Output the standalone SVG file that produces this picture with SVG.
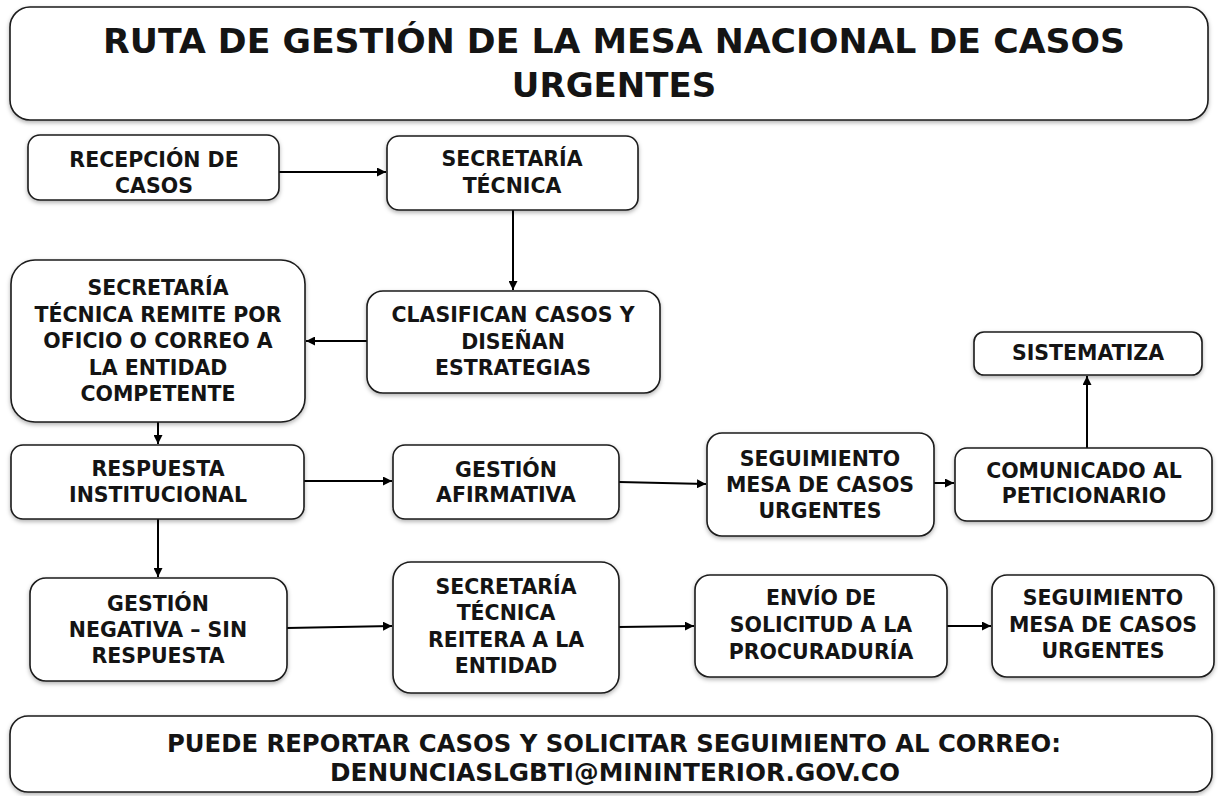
<svg xmlns="http://www.w3.org/2000/svg" width="1218" height="796" viewBox="0 0 1218 796">
  <defs>
    <filter id="shadow" x="-10%" y="-10%" width="120%" height="130%">
      <feDropShadow dx="0" dy="2" stdDeviation="2" flood-color="#000" flood-opacity="0.3"/>
    </filter>
    <marker id="arrow" viewBox="0 0 10 10" refX="10" refY="5" markerWidth="9" markerHeight="9" markerUnits="userSpaceOnUse" orient="auto">
      <path d="M0,0 L10,5 L0,10 z" fill="#000"/>
    </marker>
    <style>
      .box { fill: #fff; stroke: #1a1a1a; stroke-width: 1.6; filter: url(#shadow); }
      .lbl { font-family: "DejaVu Sans", "Liberation Sans", sans-serif; font-weight: bold; font-size: 20.5px; fill: #141414; text-anchor: middle; }
      .title { font-family: "DejaVu Sans", "Liberation Sans", sans-serif; font-weight: bold; font-size: 34px; fill: #141414; text-anchor: middle; }
      .foot { font-family: "DejaVu Sans", "Liberation Sans", sans-serif; font-weight: bold; font-size: 24px; fill: #141414; text-anchor: middle; }
      .edge { fill: none; stroke: #000; stroke-width: 2; marker-end: url(#arrow); }
    </style>
  </defs>
  <rect width="1218" height="796" fill="#fff"/>

  <g id="title">
    <rect class="box" x="10" y="7" width="1198" height="113" rx="20"/>
    <text class="title" x="614" y="53" textLength="1022" lengthAdjust="spacingAndGlyphs">RUTA DE GESTIÓN DE LA MESA NACIONAL DE CASOS</text>
    <text class="title" x="614" y="97">URGENTES</text>
  </g>

  <g id="connectors">
    <line class="edge" x1="279" y1="172" x2="386" y2="172"/>
    <line class="edge" x1="513" y1="210" x2="513" y2="290"/>
    <line class="edge" x1="367" y1="341" x2="306" y2="341"/>
    <line class="edge" x1="158" y1="422" x2="158" y2="444"/>
    <line class="edge" x1="304" y1="481" x2="392" y2="481"/>
    <line class="edge" x1="619" y1="482" x2="706" y2="484"/>
    <line class="edge" x1="934" y1="483" x2="954" y2="483"/>
    <line class="edge" x1="1087" y1="448" x2="1087" y2="376"/>
    <line class="edge" x1="158" y1="519" x2="158" y2="577"/>
    <line class="edge" x1="287" y1="628" x2="392" y2="626"/>
    <line class="edge" x1="619" y1="627" x2="694" y2="626"/>
    <line class="edge" x1="947" y1="626" x2="991" y2="626"/>
  </g>

  <g id="n-recepcion">
    <rect class="box" x="28" y="135" width="251" height="65" rx="12"/>
    <text class="lbl" x="154" y="167">RECEPCIÓN DE</text>
    <text class="lbl" x="154" y="193">CASOS</text>
  </g>
  <g id="n-secretaria">
    <rect class="box" x="387" y="136" width="251" height="74" rx="12"/>
    <text class="lbl" x="512" y="166">SECRETARÍA</text>
    <text class="lbl" x="512" y="193">TÉCNICA</text>
  </g>
  <g id="n-clasifican">
    <rect class="box" x="367" y="291" width="293" height="102" rx="16"/>
    <text class="lbl" x="513" y="322">CLASIFICAN CASOS Y</text>
    <text class="lbl" x="513" y="348.5">DISEÑAN</text>
    <text class="lbl" x="513" y="375">ESTRATEGIAS</text>
  </g>
  <g id="n-remite">
    <rect class="box" x="11" y="260" width="294" height="162" rx="24"/>
    <text class="lbl" x="158" y="295">SECRETARÍA</text>
    <text class="lbl" x="158" y="321.5">TÉCNICA REMITE POR</text>
    <text class="lbl" x="158" y="348">OFICIO O CORREO A</text>
    <text class="lbl" x="158" y="374.5">LA ENTIDAD</text>
    <text class="lbl" x="158" y="401">COMPETENTE</text>
  </g>
  <g id="n-respuesta">
    <rect class="box" x="11" y="445" width="293" height="74" rx="12"/>
    <text class="lbl" x="158" y="476">RESPUESTA</text>
    <text class="lbl" x="158" y="502">INSTITUCIONAL</text>
  </g>
  <g id="n-afirmativa">
    <rect class="box" x="393" y="445" width="226" height="74" rx="12"/>
    <text class="lbl" x="506" y="477">GESTIÓN</text>
    <text class="lbl" x="506" y="502">AFIRMATIVA</text>
  </g>
  <g id="n-seguimiento1">
    <rect class="box" x="707" y="433" width="227" height="103" rx="15"/>
    <text class="lbl" x="820" y="466">SEGUIMIENTO</text>
    <text class="lbl" x="820" y="492">MESA DE CASOS</text>
    <text class="lbl" x="820" y="518">URGENTES</text>
  </g>
  <g id="n-comunicado">
    <rect class="box" x="955" y="448" width="257" height="73" rx="12"/>
    <text class="lbl" x="1084" y="478">COMUNICADO AL</text>
    <text class="lbl" x="1084" y="503">PETICIONARIO</text>
  </g>
  <g id="n-sistematiza">
    <rect class="box" x="974" y="332" width="228" height="43" rx="10"/>
    <text class="lbl" x="1088" y="360">SISTEMATIZA</text>
  </g>
  <g id="n-negativa">
    <rect class="box" x="30" y="578" width="257" height="103" rx="16"/>
    <text class="lbl" x="158" y="611">GESTIÓN</text>
    <text class="lbl" x="158" y="637">NEGATIVA – SIN</text>
    <text class="lbl" x="158" y="663">RESPUESTA</text>
  </g>
  <g id="n-reitera">
    <rect class="box" x="393" y="562" width="226" height="131" rx="18"/>
    <text class="lbl" x="506" y="594">SECRETARÍA</text>
    <text class="lbl" x="506" y="620">TÉCNICA</text>
    <text class="lbl" x="506" y="647">REITERA A LA</text>
    <text class="lbl" x="506" y="673">ENTIDAD</text>
  </g>
  <g id="n-envio">
    <rect class="box" x="695" y="575" width="252" height="102" rx="15"/>
    <text class="lbl" x="821" y="605">ENVÍO DE</text>
    <text class="lbl" x="821" y="632">SOLICITUD A LA</text>
    <text class="lbl" x="821" y="659">PROCURADURÍA</text>
  </g>
  <g id="n-seguimiento2">
    <rect class="box" x="992" y="575" width="222" height="102" rx="15"/>
    <text class="lbl" x="1103" y="605">SEGUIMIENTO</text>
    <text class="lbl" x="1103" y="632">MESA DE CASOS</text>
    <text class="lbl" x="1103" y="658">URGENTES</text>
  </g>

  <g id="footer">
    <rect class="box" x="10" y="716" width="1202" height="76" rx="18"/>
    <text class="foot" x="614" y="752" textLength="894" lengthAdjust="spacingAndGlyphs">PUEDE REPORTAR CASOS Y SOLICITAR SEGUIMIENTO AL CORREO:</text>
    <text class="foot" x="615" y="781" textLength="570" lengthAdjust="spacingAndGlyphs">DENUNCIASLGBTI@MININTERIOR.GOV.CO</text>
  </g>
</svg>
